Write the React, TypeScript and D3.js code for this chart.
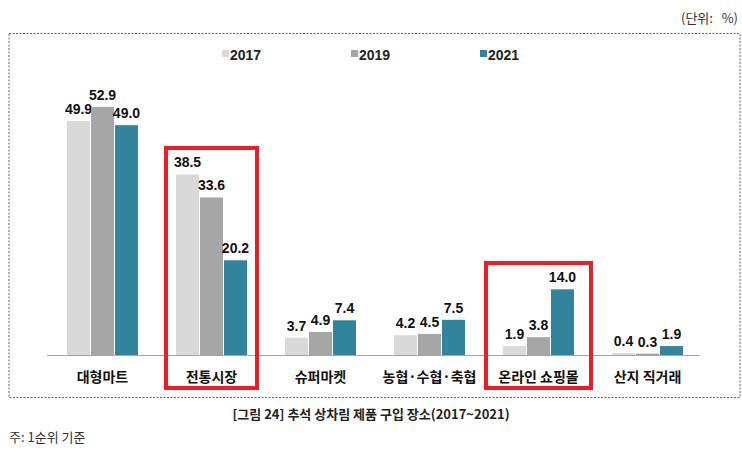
import React from "react";
import * as d3 from "d3";

const categories = ["대형마트", "전통시장", "슈퍼마켓", "농협·수협·축협", "온라인 쇼핑몰", "산지 직거래"];
const years = ["2017", "2019", "2021"];
const values2017 = [49.9, 38.5, 3.7, 4.2, 1.9, 0.4];
const values2019 = [52.9, 33.6, 4.9, 4.5, 3.8, 0.3];
const values2021 = [49.0, 20.2, 7.4, 7.5, 14.0, 1.9];
const highlighted = ["전통시장", "온라인 쇼핑몰"];
const colors = ["#d9d9d9", "#a6a6a6", "#31849b"];

const FONT = "'Noto Sans CJK KR', 'Noto Sans', sans-serif";
const NUMFONT = "'Liberation Sans', Arial, sans-serif";

export default function App() {
  const W = 742, H = 456;
  const baseY = 355;
  const series = [values2017, values2019, values2021];
  const x = d3.scaleBand<string>().domain(categories).range([48, 702]);
  const xi = d3.scaleBand<string>().domain(years).range([-35.5, 35.5]).paddingInner(0.04);
  const y = d3.scaleLinear().domain([0, 55]).range([baseY, baseY - 55 * 4.69]);
  const cx = (c: string) => (x(c) as number) + x.bandwidth() / 2;
  const legendX = [222, 351, 480];

  return (
    <svg width={W} height={H} style={{ position: "absolute", left: 0, top: 0, background: "#fff" }} fontFamily={FONT}>
      <rect x={0} y={0} width={W} height={H} fill="#fff" />
      <text x={681} y={23} fontSize={13} fill="#333">(단위:</text>
      <text x={738} y={23} textAnchor="end" fontSize={13} fill="#333">%)</text>
      <rect x={9} y={33.5} width={731} height={364} fill="none" stroke="#666" strokeWidth={1} strokeDasharray="2,1.5" />
      {years.map((yr, i) => (
        <g key={yr}>
          <rect x={legendX[i]} y={50} width={7} height={7} fill={colors[i]} />
          <text x={legendX[i] + 8} y={59.5} fontSize={14} fontWeight="bold" fill="#222" fontFamily={NUMFONT}>{yr}</text>
        </g>
      ))}
      {categories.map((c, ci) => (
        <g key={c}>
          {series.map((s, si) => {
            const bx = cx(c) + (xi(years[si]) as number);
            const bw = xi.bandwidth();
            return (
              <g key={si}>
                <rect x={bx} y={y(s[ci])} width={bw} height={baseY - y(s[ci])} fill={colors[si]} />
                <text x={bx + bw / 2} y={y(s[ci]) - 7} textAnchor="middle" fontSize={14} fontWeight="bold" fill="#111" fontFamily={NUMFONT}>
                  {s[ci].toFixed(1)}
                </text>
              </g>
            );
          })}
          <text x={cx(c)} y={382} textAnchor="middle" fontSize={14} fontWeight="bold" fill="#111">{c}</text>
        </g>
      ))}
      <line x1={47} x2={700} y1={baseY + 0.5} y2={baseY + 0.5} stroke="#a6a6a6" strokeWidth={1} />
      {highlighted.map((c) => {
        const w = c === "전통시장" ? 91 : 105;
        const top = c === "전통시장" ? 148 : 263;
        return (
          <rect key={c} x={cx(c) - w / 2} y={top} width={w} height={388 - top} fill="none" stroke="#ee1c25" strokeWidth={4} />
        );
      })}
      <text x={371} y={419} textAnchor="middle" fontSize={13} fontWeight="bold" fill="#222">
        [그림 24] 추석 상차림 제품 구입 장소(2017~2021)
      </text>
      <text x={9} y={442} fontSize={13} fill="#333">주: 1순위 기준</text>
    </svg>
  );
}
